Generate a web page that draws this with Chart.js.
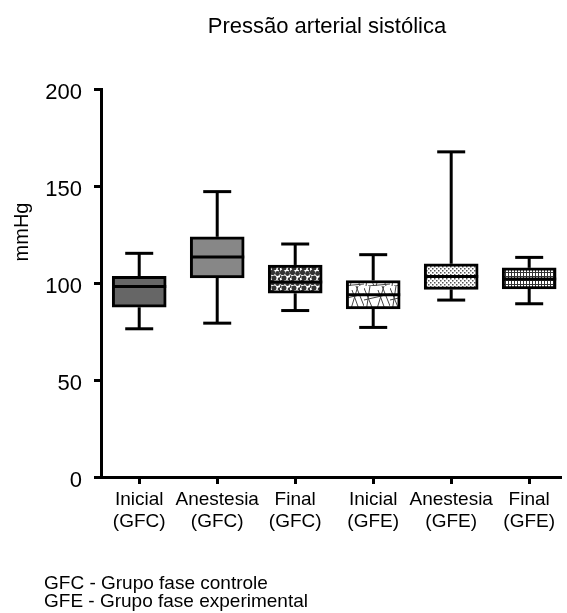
<!DOCTYPE html>
<html>
<head>
<meta charset="utf-8">
<script src="https://cdn.jsdelivr.net/npm/chart.js@4.4.1/dist/chart.umd.min.js"></script>
<style>
  html, body { margin: 0; padding: 0; background: #fff; }
  #wrap { position: relative; width: 567px; height: 613px; }
</style>
</head>
<body>
<div id="wrap"><canvas id="chart" width="567" height="613"></canvas></div>
<script>
// ── Data ──────────────────────────────────────────────────────
const CATEGORIES = [
  ['Inicial', '(GFC)'], ['Anestesia', '(GFC)'], ['Final', '(GFC)'],
  ['Inicial', '(GFE)'], ['Anestesia', '(GFE)'], ['Final', '(GFE)'],
];
const MINS    = [76.4,  79.3, 85.8,  77.1,  91.2,  89.3];
const Q1S     = [87.5, 102.6, 94.7,  86.6,  96.7,  96.9];
const MEDIANS = [98.2, 113.4, 100.5, 93.9, 103.4, 102.0];
const Q3S     = [103.4, 123.8, 109.3, 101.3, 109.9, 107.8];
const MAXS    = [115.3, 147.1, 120.1, 114.6, 167.6, 113.2];
const Y_TICKS = [0, 50, 100, 150, 200];

const TITLE   = 'Pressão arterial sistólica';
const Y_TITLE = 'mmHg';
const NOTES   = ['GFC - Grupo fase controle', 'GFE - Grupo fase experimental'];

const FONT = 'Liberation Sans, Arial, Helvetica, sans-serif';

// ── Fill patterns ─────────────────────────────────────────────
function makePattern(w, h, draw) {
  const c = document.createElement('canvas');
  c.width = w; c.height = h;
  const g = c.getContext('2d');
  g.fillStyle = '#fff';
  g.fillRect(0, 0, w, h);
  draw(g);
  return g.createPattern(c, 'repeat');
}

const blobs = makePattern(10, 10, g => {
  g.fillStyle = '#333';
  [[2.5, 2.5, 2.6], [7.5, 3.5, 2.4], [4, 8, 2.5], [9.5, 9, 1.8], [0, 6.5, 1.6], [10, 1, 1.2]].forEach(([x, y, r]) => {
    g.beginPath(); g.arc(x, y, r, 0, Math.PI * 2); g.fill();
  });
});

const scribble = makePattern(26, 26, g => {
  g.strokeStyle = '#444';
  g.lineWidth = 1;
  [[0, 2, 10, 26], [6, 0, 2, 26], [12, 26, 20, 0], [18, 0, 26, 20], [0, 14, 26, 8], [22, 26, 14, 4], [4, 26, 26, 24]]
    .forEach(([a, b, c, d]) => { g.beginPath(); g.moveTo(a, b); g.lineTo(c, d); g.stroke(); });
});

const fineDots = makePattern(4, 4, g => {
  g.fillStyle = '#555';
  g.fillRect(0, 0, 1.5, 1.5);
  g.fillRect(2, 2, 1.5, 1.5);
});

const grid = makePattern(3, 4, g => {
  g.fillStyle = '#333';
  g.fillRect(1, 0, 1, 4);
  g.fillRect(0, 0, 3, 1);
});

const FILLS = ['#666666', '#878787', blobs, scribble, fineDots, grid];

// ── Plugins ───────────────────────────────────────────────────
const boxWhiskers = {
  id: 'boxWhiskers',
  afterDatasetsDraw(chart) {
    const { ctx } = chart;
    const y = chart.scales.y;
    const meta = chart.getDatasetMeta(0);
    ctx.save();
    ctx.strokeStyle = '#000';
    ctx.lineWidth = 3;
    ctx.lineCap = 'butt';
    meta.data.forEach((bar, i) => {
      const { x, width } = bar.getProps(['x', 'width'], true);
      const cap = 14;
      const line = (x1, y1, x2, y2) => { ctx.beginPath(); ctx.moveTo(x1, y1); ctx.lineTo(x2, y2); ctx.stroke(); };
      // whiskers
      line(x, y.getPixelForValue(Q3S[i]), x, y.getPixelForValue(MAXS[i]));
      line(x, y.getPixelForValue(Q1S[i]), x, y.getPixelForValue(MINS[i]));
      line(x - cap, y.getPixelForValue(MAXS[i]), x + cap, y.getPixelForValue(MAXS[i]));
      line(x - cap, y.getPixelForValue(MINS[i]), x + cap, y.getPixelForValue(MINS[i]));
      // median
      const my = y.getPixelForValue(MEDIANS[i]);
      line(x - width / 2, my, x + width / 2, my);
    });
    ctx.restore();
  },
};

const texts = {
  id: 'texts',
  afterDraw(chart) {
    const { ctx } = chart;
    ctx.save();
    ctx.fillStyle = '#000';
    ctx.textBaseline = 'alphabetic';

    ctx.font = `22px ${FONT}`;
    ctx.textAlign = 'center';
    ctx.fillText(TITLE, 327, 33);

    ctx.save();
    ctx.font = `20px ${FONT}`;
    ctx.translate(28, 232);
    ctx.rotate(-Math.PI / 2);
    ctx.fillText(Y_TITLE, 0, 0);
    ctx.restore();

    ctx.font = `19px ${FONT}`;
    ctx.textAlign = 'left';
    NOTES.forEach((t, i) => ctx.fillText(t, 44, 589 + i * 18));
    ctx.restore();
  },
};

// ── Chart ─────────────────────────────────────────────────────
new Chart(document.getElementById('chart'), {
  type: 'bar',
  data: {
    datasets: [{
      data: CATEGORIES.map((_, i) => ({ x: i, y: [Q1S[i], Q3S[i]] })),
      backgroundColor: FILLS,
      borderColor: '#000',
      borderWidth: 3,
      borderSkipped: false,
      barThickness: 54,
    }],
  },
  options: {
    responsive: false,
    animation: false,
    devicePixelRatio: 1,
    layout: { padding: { top: 89, right: 7, bottom: 0, left: 0 } },
    plugins: {
      legend:  { display: false },
      tooltip: { enabled: false },
      title:   { display: false },
    },
    scales: {
      x: {
        type: 'linear',
        offset: false,
        min: -0.49,
        max: 5.395,
        afterBuildTicks: s => { s.ticks = CATEGORIES.map((_, i) => ({ value: i })); },
        afterFit: s => { s.height = 136; },
        ticks: {
          callback: v => CATEGORIES[v],
          font: { family: FONT, size: 19, lineHeight: 1.2 },
          color: '#000',
          padding: 4,
          maxRotation: 0,
          autoSkip: false,
        },
        grid:   { offset: false, drawOnChartArea: false, tickLength: 7, color: '#000', lineWidth: 3 },
        border: { color: '#000', width: 3 },
      },
      y: {
        min: 0,
        max: 200,
        afterBuildTicks: s => { s.ticks = Y_TICKS.map(v => ({ value: v })); },
        afterFit: s => { s.width = 101; },
        ticks: {
          font: { family: FONT, size: 22 },
          color: '#000',
          padding: 12,
          labelOffset: 4,
        },
        grid:   { drawOnChartArea: false, tickLength: 7, color: '#000', lineWidth: 3 },
        border: { color: '#000', width: 3 },
      },
    },
  },
  plugins: [boxWhiskers, texts],
});
</script>
</body>
</html>
